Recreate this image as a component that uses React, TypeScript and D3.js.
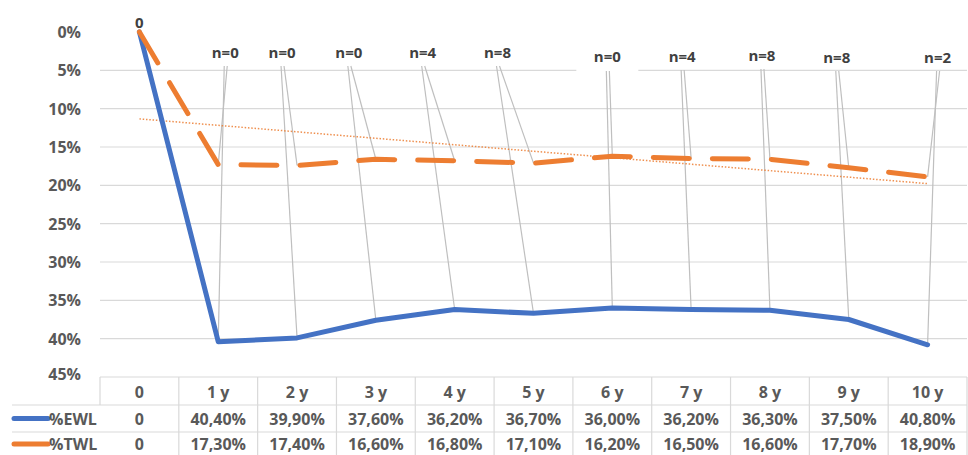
import React from "react";
import * as d3 from "d3";

const categories = ["0", "1 y", "2 y", "3 y", "4 y", "5 y", "6 y", "7 y", "8 y", "9 y", "10 y"];
const ewl = [0, 40.4, 39.9, 37.6, 36.2, 36.7, 36.0, 36.2, 36.3, 37.5, 40.8];
const twl = [0, 17.3, 17.4, 16.6, 16.8, 17.1, 16.2, 16.5, 16.6, 17.7, 18.9];
const nLabels = ["0", "n=0", "n=0", "n=0", "n=4", "n=8", "n=0", "n=4", "n=8", "n=8", "n=2"];
const yTicks = [0, 5, 10, 15, 20, 25, 30, 35, 40, 45];
const seriesNames = ["%EWL", "%TWL"];

// label placement (layout only)
const labelDx = [0, 7, -15, -27, -32, -36, -5, -9, -8, -12, 10];
const labelCy = [22, 52, 52, 52, 52, 52, 56, 56, 55, 57, 57];

const W = 968;
const H = 455;
const BLUE = "#4472C4";
const ORANGE = "#ED7D31";
const TXT = "#595959";
const GRID = "#d9d9d9";
const FONT = "'Open Sans', 'Liberation Sans', sans-serif";

function fmt(v: number) {
  return v === 0 ? "0" : v.toFixed(2).replace(".", ",") + "%";
}

export default function App() {
  const x = d3.scaleBand<string>().domain(categories).range([100, 967]);
  const bw = x.bandwidth();
  const cx = (i: number) => (x(categories[i]) as number) + bw / 2;
  const y = d3.scaleLinear().domain([0, 45]).range([32, 377]);

  const lineGen = d3
    .line<number>()
    .x((_, i) => cx(i))
    .y((d) => y(d));

  // linear trendline of TWL
  const xs = twl.map((_, i) => i);
  const mx = d3.mean(xs) as number;
  const my = d3.mean(twl) as number;
  const sxy = d3.sum(xs, (xi, i) => (xi - mx) * (twl[i] - my));
  const sxx = d3.sum(xs, (xi) => (xi - mx) * (xi - mx));
  const slope = sxy / sxx;
  const icpt = my - slope * mx;
  const t0 = icpt;
  const t1 = icpt + slope * (categories.length - 1);

  const rowLines = [377, 405, 432];
  const rowCenters = [391.5, 418.5, 444];
  const bounds = categories.map((c) => x(c) as number).concat([967]);

  return (
    <svg
      width={W}
      height={H}
      style={{ position: "absolute", left: 0, top: 0, background: "#fff" }}
      fontFamily={FONT}
    >
      <rect x={0} y={0} width={W} height={H} fill="#fff" />
      {/* gridlines */}
      {yTicks
        .filter((t) => t > 0 && t < 45)
        .map((t) => (
          <line key={t} x1={100} x2={967} y1={y(t)} y2={y(t)} stroke={GRID} strokeWidth={1.2} />
        ))}
      {/* y labels */}
      {yTicks.map((t) => (
        <text
          key={t}
          x={81}
          y={y(t) - (t === 45 ? 3 : 0)}
          textAnchor="end"
          dominantBaseline="central"
          fontSize={16}
          fontWeight={700}
          fill={TXT}
        >
          {t}%
        </text>
      ))}
      {/* table */}
      <line x1={100} x2={967} y1={rowLines[0]} y2={rowLines[0]} stroke={GRID} strokeWidth={1.2} />
      {rowLines.slice(1).map((r) => (
        <line key={r} x1={12} x2={967} y1={r} y2={r} stroke={GRID} strokeWidth={1.2} />
      ))}
      <line x1={100} x2={100} y1={377} y2={405} stroke={GRID} strokeWidth={1.2} />
      {bounds.slice(1).map((b, i) => (
        <line key={i} x1={b} x2={b} y1={377} y2={H} stroke={GRID} strokeWidth={1.2} />
      ))}
      {categories.map((c, i) => (
        <text
          key={c}
          x={cx(i)}
          y={rowCenters[0]}
          textAnchor="middle"
          dominantBaseline="central"
          fontSize={16}
          fontWeight={700}
          fill={TXT}
        >
          {c}
        </text>
      ))}
      {[ewl, twl].map((s, si) =>
        s.map((v, i) => (
          <text
            key={si + "-" + i}
            x={cx(i)}
            y={rowCenters[si + 1]}
            textAnchor="middle"
            dominantBaseline="central"
            fontSize={16}
            fontWeight={700}
            fill={TXT}
          >
            {fmt(v)}
          </text>
        ))
      )}
      {seriesNames.map((n, si) => (
        <g key={n}>
          <line
            x1={14}
            x2={48}
            y1={rowCenters[si + 1]}
            y2={rowCenters[si + 1]}
            stroke={si === 0 ? BLUE : ORANGE}
            strokeWidth={5}
            strokeLinecap="round"
          />
          <text
            x={49}
            y={rowCenters[si + 1]}
            dominantBaseline="central"
            fontSize={16}
            fontWeight={700}
            fill={TXT}
          >
            {n}
          </text>
        </g>
      ))}
      {/* leader lines */}
      {categories.map((c, i) => {
        if (i === 0) return null;
        const lx = cx(i) + labelDx[i];
        const ly = labelCy[i] + 14;
        return (
          <g key={"lead" + i} stroke="#bfbfbf" strokeWidth={1.2}>
            <line x1={lx - 1} y1={ly} x2={cx(i)} y2={y(ewl[i])} />
            <line x1={lx + 2} y1={ly} x2={cx(i)} y2={y(twl[i])} />
          </g>
        );
      })}
      {/* trendline */}
      <line
        x1={cx(0)}
        x2={cx(categories.length - 1)}
        y1={y(t0)}
        y2={y(t1)}
        stroke={ORANGE}
        strokeWidth={1.5}
        strokeDasharray="1.5 1.8"
        opacity={0.85}
      />
      {/* series */}
      <path d={lineGen(ewl) || ""} fill="none" stroke={BLUE} strokeWidth={5} strokeLinejoin="round" strokeLinecap="round" />
      <path
        d={lineGen(twl) || ""}
        fill="none"
        stroke={ORANGE}
        strokeWidth={5}
        strokeDasharray="36 23"
        strokeLinecap="round"
        strokeLinejoin="round"
      />
      {/* labels */}
      {nLabels.map((l, i) => {
        const lx = cx(i) + labelDx[i];
        const ly = labelCy[i];
        return (
          <g key={"lab" + i}>
            {i === 6 && <rect x={lx - 31} y={ly - 13} width={62} height={28} fill="#fff" />}
            <text
              x={lx}
              y={ly}
              textAnchor="middle"
              dominantBaseline="central"
              fontSize={15}
              fontWeight={700}
              fill="#404040"
            >
              {l}
            </text>
          </g>
        );
      })}
    </svg>
  );
}
